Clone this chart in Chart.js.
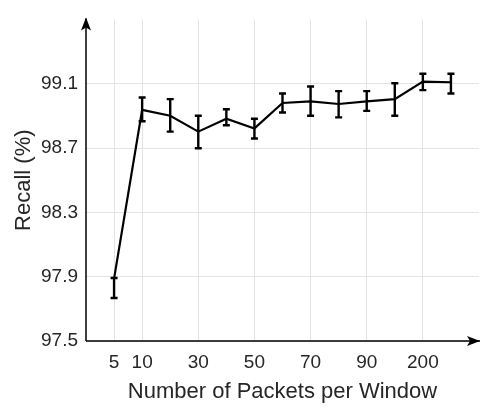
<!DOCTYPE html>
<html>
<head>
<meta charset="utf-8">
<script src="https://cdn.jsdelivr.net/npm/chart.js@4/dist/chart.umd.min.js"></script>
<style>
  html, body { margin: 0; padding: 0; background: #ffffff; }
  #wrap { width: 489px; height: 409px; }
</style>
</head>
<body>
<div id="wrap"><canvas id="myChart" width="489" height="409"></canvas></div>
<script>
    // data
    const windowSizes = [5, 10, 20, 30, 40, 50, 60, 70, 80, 90, 100, 200, 300];
    const shownTicks = [5, 10, 30, 50, 70, 90, 200];
    const recall     = [97.888, 98.937, 98.901, 98.802, 98.882, 98.822, 98.980, 98.990, 98.974, 98.990, 99.004, 99.113, 99.109];
    const recallHigh = [97.892, 99.014, 99.004, 98.901, 98.941, 98.882, 99.039, 99.083, 99.054, 99.054, 99.103, 99.162, 99.162];
    const recallLow  = [97.767, 98.867, 98.802, 98.699, 98.842, 98.759, 98.921, 98.901, 98.891, 98.931, 98.901, 99.060, 99.039];
    const yTicks = [97.5, 97.9, 98.3, 98.7, 99.1];

    const textColor = '#262626';
    const gridColor = '#e3e3e3';

    let isShownX = (v) => {
        let size = windowSizes[Math.round(v)];
        return Number.isInteger(v) && v >= 0 && v < windowSizes.length && shownTicks.includes(size);
    }

    // error bars + axis lines with arrows
    const extras = {
        id: 'extras',
        afterDatasetsDraw(chart) {
            const ctx = chart.ctx;
            const xs = chart.scales.x, ys = chart.scales.y;
            ctx.save();
            ctx.strokeStyle = '#000';
            ctx.lineWidth = 2.4;
            for (let i = 0; i < recall.length; i++) {
                let px = xs.getPixelForValue(i);
                let top = ys.getPixelForValue(recallHigh[i]);
                let bot = ys.getPixelForValue(recallLow[i]);
                ctx.beginPath();
                ctx.moveTo(px, top); ctx.lineTo(px, bot);
                ctx.moveTo(px - 3.5, top); ctx.lineTo(px + 3.5, top);
                ctx.moveTo(px - 3.5, bot); ctx.lineTo(px + 3.5, bot);
                ctx.stroke();
            }
            ctx.restore();
        },
        afterDraw(chart) {
            const ctx = chart.ctx;
            const a = chart.chartArea;
            ctx.save();
            ctx.strokeStyle = '#000';
            ctx.fillStyle = '#000';
            ctx.lineWidth = 1.5;
            ctx.beginPath();
            ctx.moveTo(a.left, a.bottom); ctx.lineTo(a.left, a.top - 1);
            ctx.moveTo(a.left, a.bottom); ctx.lineTo(a.right + 1, a.bottom);
            ctx.stroke();
            // y arrow
            let tx = a.left, ty = a.top - 2;
            ctx.beginPath();
            ctx.moveTo(tx, ty);
            ctx.lineTo(tx + 5, ty + 13);
            ctx.lineTo(tx, ty + 10);
            ctx.lineTo(tx - 5, ty + 13);
            ctx.closePath();
            ctx.fill();
            // x arrow
            let rx = a.right + 1, ry = a.bottom;
            ctx.beginPath();
            ctx.moveTo(rx, ry);
            ctx.lineTo(rx - 13, ry - 5);
            ctx.lineTo(rx - 10, ry);
            ctx.lineTo(rx - 13, ry + 5);
            ctx.closePath();
            ctx.fill();
            ctx.restore();
        }
    };

    const ctx = document.getElementById('myChart');
    const myChart = new Chart(ctx, {
        type: 'line',
        data: {
            datasets: [{
                label: 'Recall',
                data: recall.map((v, i) => ({x: i, y: v})),
                borderColor: '#000',
                borderWidth: 2.2,
                pointRadius: 0,
                tension: 0,
                fill: false
            }]
        },
        options: {
            responsive: false,
            animation: false,
            devicePixelRatio: 1,
            layout: { padding: { top: 4, right: 3, left: 0, bottom: 0 } },
            plugins: {
                legend: { display: false },
                tooltip: { enabled: false }
            },
            scales: {
                x: {
                    type: 'linear',
                    min: -1,
                    max: windowSizes.length,
                    afterFit: (scale) => { scale.height = 68; },
                    afterBuildTicks: (scale) => {
                        scale.ticks = [];
                        for (let i = -1; i <= windowSizes.length; i++) scale.ticks.push({value: i});
                    },
                    border: { display: false },
                    grid: {
                        drawTicks: false,
                        lineWidth: 1,
                        color: (c) => (c.tick && isShownX(c.tick.value)) ? gridColor : 'rgba(0,0,0,0)'
                    },
                    ticks: {
                        autoSkip: false,
                        maxRotation: 0,
                        padding: 10,
                        color: textColor,
                        font: { family: 'Liberation Sans, Arial, sans-serif', size: 19 },
                        callback: (v) => isShownX(v) ? String(windowSizes[v]) : ''
                    },
                    title: {
                        display: true,
                        text: 'Number of Packets per Window',
                        color: textColor,
                        font: { family: 'Liberation Sans, Arial, sans-serif', size: 22 },
                        padding: { top: 0, bottom: 4 }
                    }
                },
                y: {
                    min: 97.5,
                    max: 99.5,
                    afterFit: (scale) => { scale.width = 86; },
                    afterBuildTicks: (scale) => {
                        scale.ticks = yTicks.map(v => ({value: v}));
                    },
                    border: { display: false },
                    grid: {
                        drawTicks: false,
                        lineWidth: 1,
                        color: gridColor
                    },
                    ticks: {
                        padding: 8,
                        color: textColor,
                        font: { family: 'Liberation Sans, Arial, sans-serif', size: 19 },
                        callback: (v) => v.toFixed(1)
                    },
                    title: {
                        display: true,
                        text: 'Recall (%)',
                        color: textColor,
                        font: { family: 'Liberation Sans, Arial, sans-serif', size: 22 },
                        padding: { top: 11, bottom: 0 }
                    }
                }
            }
        },
        plugins: [extras]
    });
</script>
</body>
</html>
